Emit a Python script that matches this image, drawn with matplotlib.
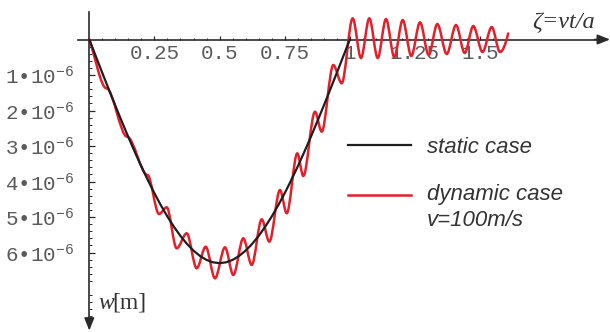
import matplotlib
matplotlib.use("Agg")
import matplotlib.pyplot as plt
from matplotlib.path import Path
from matplotlib.patches import PathPatch

# ---------------- data (w in units of 1e-6 m, positive downward) ----------------
static_zeta = [0.000, 0.025, 0.050, 0.075, 0.100, 0.125, 0.150, 0.175, 0.200, 0.225,
               0.250, 0.275, 0.300, 0.325, 0.350, 0.375, 0.400, 0.425, 0.450, 0.475,
               0.500, 0.525, 0.550, 0.575, 0.600, 0.625, 0.650, 0.675, 0.700, 0.725,
               0.750, 0.775, 0.800, 0.825, 0.850, 0.875, 0.900, 0.925, 0.950, 0.975, 1.000]
static_w = [0.000, 0.472, 0.942, 1.407, 1.865, 2.313, 2.750, 3.173, 3.578, 3.965,
            4.331, 4.673, 4.990, 5.277, 5.535, 5.759, 5.947, 6.098, 6.209, 6.277,
            6.300, 6.277, 6.209, 6.098, 5.947, 5.759, 5.535, 5.277, 4.990, 4.673,
            4.331, 3.965, 3.578, 3.173, 2.750, 2.313, 1.865, 1.407, 0.942, 0.472, 0.000]

# dynamic case: key points (extrema / plateaus), with local slope
dyn_zeta = [0.000, 0.066, 0.145, 0.2234, 0.2676, 0.2971, 0.3355, 0.3739, 0.4123, 0.4468,
            0.4825, 0.5209, 0.5528, 0.5912, 0.6234, 0.6618, 0.6910, 0.7320, 0.7578, 0.7985,
            0.8215, 0.8664, 0.8921, 0.9367, 0.9689, 1.0111, 1.0430, 1.0749, 1.1071, 1.1390,
            1.1708, 1.2031, 1.2361, 1.2695, 1.3029, 1.3359, 1.3720, 1.4077, 1.4411, 1.4741,
            1.5094, 1.5447, 1.5766, 1.6080]
dyn_w = [0.000, 1.375, 2.738, 3.817, 4.915, 4.727, 5.882, 5.459, 6.445, 5.837,
         6.727, 5.854, 6.634, 5.600, 6.352, 5.065, 5.696, 4.239, 4.896, 3.206,
         3.845, 2.034, 2.597, 0.718, 1.234, -0.597, 0.521, -0.597, 0.521, -0.577,
         0.493, -0.549, 0.465, -0.485, 0.437, -0.437, 0.408, -0.408, 0.380, -0.380,
         0.352, -0.352, 0.352, -0.170]
dyn_slope = [20.0] + [0.0] * 42 + [-30.0]

xtick_major = [0.25, 0.5, 0.75, 1.0, 1.25, 1.5]
xtick_labels = ["0.25", "0.5", "0.75", "1", "1.25", "1.5"]
ytick_major = [1, 2, 3, 4, 5, 6]
ytick_labels = ["%d•10$^{-6}$" % v for v in ytick_major]

legend_labels = ["static case", "dynamic case", "v=100m/s"]

# ---------------- style ----------------
plt.rcParams["mathtext.fontset"] = "custom"
plt.rcParams["mathtext.rm"] = "Liberation Mono"
plt.rcParams["mathtext.it"] = "Liberation Mono:italic"
plt.rcParams["mathtext.bf"] = "Liberation Mono:bold"

W, H = 610, 332
fig = plt.figure(figsize=(W / 100, H / 100), dpi=100)
ax = fig.add_axes([0, 0, 1, 1])

x0px, xscale = 89.3, 260.5
y0px, yscale = 39.5, 35.5
ax.set_xlim(-x0px / xscale, (W - x0px) / xscale)
ax.set_ylim((H - y0px) / yscale, -y0px / yscale)

RED = "#e3202a"
BLACK = "#1e1e1e"
AXC = "#2a2a2a"
LABC = "#5a5a5a"

# dynamic curve: smooth Hermite/Bezier path through the key points
verts = [(dyn_zeta[0], dyn_w[0])]
codes = [Path.MOVETO]
for i in range(len(dyn_zeta) - 1):
    dx = dyn_zeta[i + 1] - dyn_zeta[i]
    verts.append((dyn_zeta[i] + dx / 3, dyn_w[i] + dyn_slope[i] * dx / 3))
    verts.append((dyn_zeta[i + 1] - dx / 3, dyn_w[i + 1] - dyn_slope[i + 1] * dx / 3))
    verts.append((dyn_zeta[i + 1], dyn_w[i + 1]))
    codes += [Path.CURVE4] * 3
ax.add_patch(PathPatch(Path(verts, codes), fill=False, edgecolor=RED, lw=1.8,
                       joinstyle="round", capstyle="round", zorder=3))

ax.plot(static_zeta, static_w, color=BLACK, lw=1.6, zorder=4, solid_capstyle="round")

# axes through the origin
for s in ["top", "right"]:
    ax.spines[s].set_visible(False)
ax.spines["left"].set_position(("data", 0))
ax.spines["bottom"].set_position(("data", 0))
ax.spines["left"].set_bounds(-0.775, 8.05)
ax.spines["bottom"].set_bounds(-0.044, 1.96)
for s in ["left", "bottom"]:
    ax.spines[s].set_color(AXC)
    ax.spines[s].set_linewidth(1.2)

ax.annotate("", xy=(1.999, 0), xytext=(1.94, 0),
            arrowprops=dict(arrowstyle="-|>,head_length=0.75,head_width=0.3",
                            color=AXC, lw=1.2, shrinkA=0, shrinkB=0),
            annotation_clip=False)
ax.annotate("", xy=(0, 8.2), xytext=(0, 7.9),
            arrowprops=dict(arrowstyle="-|>,head_length=0.75,head_width=0.3",
                            color=AXC, lw=1.2, shrinkA=0, shrinkB=0),
            annotation_clip=False)

ax.set_xticks(xtick_major)
ax.set_xticklabels(xtick_labels, family="Liberation Mono", fontsize=15, color=LABC)
ax.set_xticks([round(0.05 * k, 2) for k in range(1, 33) if k % 5 != 0], minor=True)
ax.set_yticks(ytick_major)
ax.set_yticklabels(ytick_labels, family="Liberation Mono", fontsize=15, color=LABC)
ax.set_yticks([round(0.2 * k, 1) for k in range(1, 40) if k % 5 != 0], minor=True)

ax.tick_params(axis="x", which="both", direction="in", color=AXC, pad=3)
ax.tick_params(axis="x", which="major", length=3.0, width=0.9)
ax.tick_params(axis="x", which="minor", length=1.8, width=0.7)
ax.tick_params(axis="y", which="both", direction="in", color=AXC, pad=11)
ax.tick_params(axis="y", which="major", length=4.0, width=0.9)
ax.tick_params(axis="y", which="minor", length=2.2, width=0.7)

# axis titles
def px(xp, yp):
    return xp / W, 1 - yp / H

ax.text(*px(532, 28.5), "ζ=vt/a", transform=ax.transAxes, family="Liberation Serif",
        style="italic", fontsize=17.5, color="#333333", va="baseline", ha="left")
ax.text(*px(98, 309), "w", transform=ax.transAxes, family="Liberation Serif",
        style="italic", fontsize=17, color="#333333", va="baseline", ha="left")
ax.text(*px(112.5, 309), "[m]", transform=ax.transAxes, family="Liberation Serif",
        fontsize=17, color="#333333", va="baseline", ha="left")

# legend (drawn by hand to match layout)
ax.plot([348 / W, 411 / W], [1 - 145 / H, 1 - 145 / H], transform=ax.transAxes,
        color=BLACK, lw=1.6)
ax.plot([348 / W, 411 / W], [1 - 195 / H, 1 - 195 / H], transform=ax.transAxes,
        color=RED, lw=1.8)
for (xp, yp), lab in zip([(427, 153), (427, 200), (427, 226.5)], legend_labels):
    ax.text(*px(xp, yp), lab, transform=ax.transAxes, family="Liberation Sans",
            style="italic", fontsize=16, color="#333333", va="baseline", ha="left")

fig.savefig("out.png", dpi=100)
